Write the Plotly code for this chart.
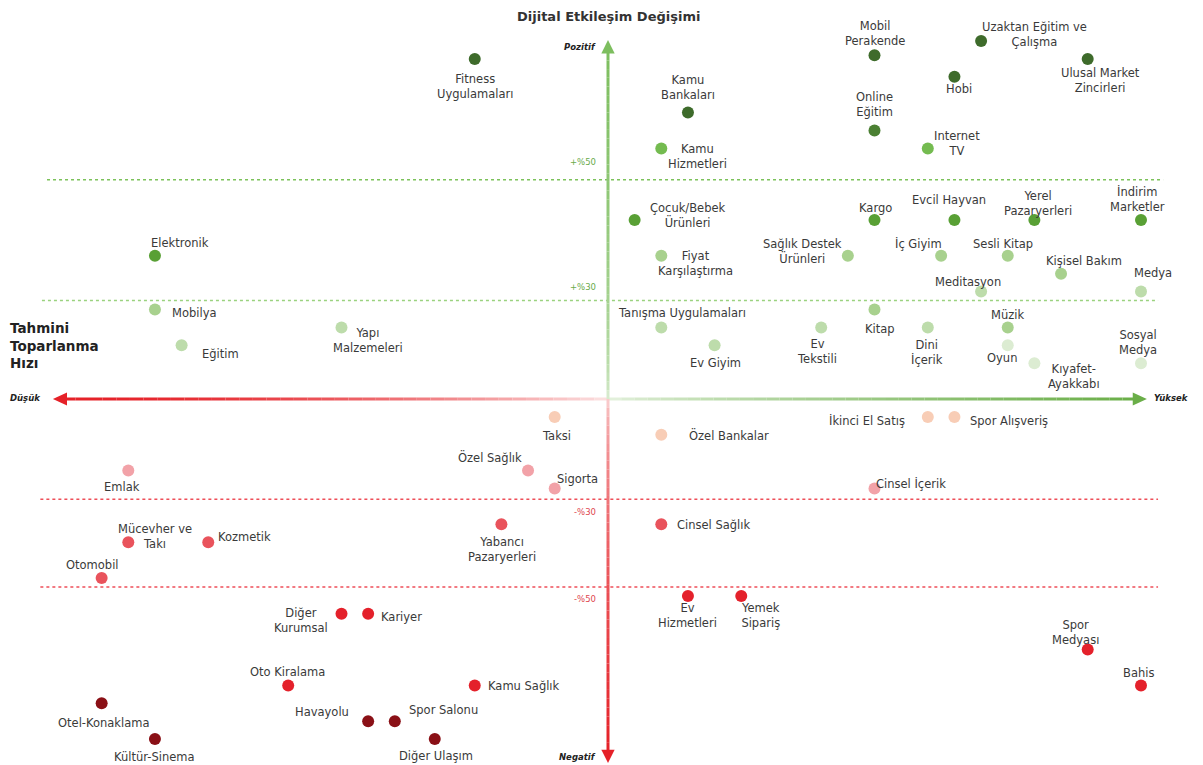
import plotly.graph_objects as go

# ---------------- data ----------------
names = [
    "Fitness<br>Uygulamaları", "Kamu<br>Bankaları", "Kamu<br>Hizmetleri", "Mobil<br>Perakende",
    "Uzaktan Eğitim ve<br>Çalışma", "Hobi", "Ulusal Market<br>Zincirleri", "Online<br>Eğitim",
    "Internet<br>TV", "Çocuk/Bebek<br>Ürünleri", "Fiyat<br>Karşılaştırma", "Elektronik",
    "Kargo", "Evcil Hayvan", "Yerel<br>Pazaryerleri", "İndirim<br>Marketler",
    "Sağlık Destek<br>Ürünleri", "İç Giyim", "Sesli Kitap", "Kişisel Bakım",
    "Medya", "Meditasyon", "Mobilya", "Tanışma Uygulamaları",
    "Kitap", "Ev<br>Tekstili", "Dini<br>İçerik", "Müzik",
    "Oyun", "Kıyafet-<br>Ayakkabı", "Sosyal<br>Medya", "Ev Giyim",
    "Eğitim", "Yapı<br>Malzemeleri", "Taksi", "Özel Bankalar",
    "İkinci El Satış", "Spor Alışveriş", "Emlak", "Özel Sağlık",
    "Sigorta", "Cinsel İçerik", "Mücevher ve<br>Takı", "Kozmetik",
    "Otomobil", "Yabancı<br>Pazaryerleri", "Cinsel Sağlık", "Diğer<br>Kurumsal",
    "Kariyer", "Ev<br>Hizmetleri", "Yemek<br>Sipariş", "Oto Kiralama",
    "Kamu Sağlık", "Spor<br>Medyası", "Bahis", "Otel-Konaklama",
    "Kültür-Sinema", "Havayolu", "Spor Salonu", "Diğer Ulaşım",
]
recovery_speed = [
    -5, 3, 2, 10,
    14, 13, 18, 10,
    12, 1, 2, -17,
    10, 13, 16, 20,
    9, 12.5, 15, 17,
    20, 14, -17, 2,
    10, 8, 12, 15,
    15, 16, 20, 4,
    -16, -10, -2, 2,
    12, 13, -18, -3,
    -2, 10, -18, -15,
    -19, -4, 2, -10,
    -9, 3, 5, -12,
    -5, 18, 20, -19,
    -17, -9, -8, -6.5,
]
digital_change = [
    19.0, 16.0, 14.0, 19.2,
    20.0, 18.0, 19.0, 15.0,
    14.0, 10.0, 8.0, 8.0,
    10.0, 10.0, 10.0, 10.0,
    8.0, 8.0, 8.0, 7.0,
    6.0, 6.0, 5.0, 4.0,
    5.0, 4.0, 4.0, 4.0,
    3.0, 2.0, 2.0, 3.0,
    3.0, 4.0, -1.0, -2.0,
    -1.0, -1.0, -4.0, -4.0,
    -5.0, -5.0, -8.0, -8.0,
    -10.0, -7.0, -7.0, -12.0,
    -12.0, -11.0, -11.0, -16.0,
    -16.0, -14.0, -16.0, -17.0,
    -19.0, -18.0, -18.0, -19.0,
]
groups = [
    "dg", "dg", "mg2", "dg",
    "dg", "dg", "dg", "dg2",
    "mg2", "mg", "lg", "mg",
    "mg", "mg", "mg", "mg",
    "lg", "lg", "lg", "lg",
    "lg2", "lg2", "lg", "lg2",
    "lg", "lg2", "lg2", "lg",
    "vlg", "vlg", "vlg", "lg2",
    "lg2", "lg2", "peach", "peach",
    "peach", "peach", "pink", "pink",
    "pink", "pink", "mr", "mr",
    "mr", "mr", "mr", "red",
    "red", "red", "red", "red",
    "red", "red", "red", "dr",
    "dr", "dr", "dr", "dr",
]
thresholds = [12.25, 5.5, -5.6, -10.5]
threshold_labels = ["+%50", "+%30", "-%30", "-%50"]

# ---------------- styles ----------------
group_colors = {
    "dg": "#3e6b2b", "dg2": "#4b8033", "mg": "#59a035", "mg2": "#74bb50",
    "lg": "#a8d18e", "lg2": "#bddcab", "vlg": "#dcecd2",
    "peach": "#f8cdb6", "pink": "#f2a2a8", "mr": "#e9535c", "red": "#e4212b", "dr": "#8a1016",
}
# label offsets in pixels (dx right, dy up)
label_offsets = [
    (0, -28), (0, 25), (36, -8), (0, 22),
    (53, 7), (5, -12), (13, -22), (0, 26),
    (29, 5), (53, 5), (34, -8), (25, 13),
    (1, 12), (-5, 20), (4, 17), (-4, 21),
    (-45, 4), (-23, 12), (-5, 12), (23, 13),
    (12, 19), (-13, 10), (40, -3), (21, 14),
    (5, -19), (-4, -24), (-1, -25), (0, 12),
    (-6, -13), (40, -13), (-3, 21), (1, -18),
    (39, -9), (26, -13), (2, -19), (68, 0),
    (-61, -4), (55, -4), (-6, -16), (-38, 14),
    (23, 10), (36, 5), (27, 6), (36, 5),
    (-9, 13), (1, -25), (52, -1), (-41, -7),
    (33, -3), (0, -20), (19, -20), (-1, 13),
    (49, -1), (-12, 17), (-3, 12), (2, -20),
    (0, -18), (-46, 9), (49, 11), (1, -17),
]

# the page places the figure 8px in from the top-left corner; compensate
OFF = 8
W, H = 1203, 765
XR = [(OFF - 608) / 26.65, (W + OFF - 608) / 26.65]
YR = [(399 - (H + OFF)) / 17.9, (399 - OFF) / 17.9]
FONT = "DejaVu Sans"


def px(xp):
    return (xp - OFF) / W


def py(yp):
    return 1 - (yp - OFF) / H


fig = go.Figure()
fig.add_trace(go.Scatter(
    x=recovery_speed, y=digital_change, mode="markers",
    marker=dict(size=12, color=[group_colors[g] for g in groups], line=dict(width=0)),
    hovertext=[n.replace("<br>", " ") for n in names], hoverinfo="text", showlegend=False,
))

shapes = []
th_extent = [(-21.05, 20.83, "#7cc25a"), (-21.24, 20.64, "#9bd27f"),
             (-21.3, 20.64, "#ee4f59"), (-21.3, 20.64, "#ee4f59")]
for t, (x0, x1, c) in zip(thresholds, th_extent):
    shapes.append(dict(type="line", x0=x0, x1=x1, y0=t, y1=t,
                       line=dict(color=c, width=1.5, dash="dot"), layer="below"))


def mix(c1, c2, t):
    return "rgb(%d,%d,%d)" % tuple(round(a + (b - a) * t) for a, b in zip(c1, c2))


N = 40
RED = (229, 33, 40)
GREEN = (106, 174, 72)
xl, xr = -20.5, 19.8
for i in range(N):
    a, b = i / N, (i + 1) / N
    t = (a + b) / 2
    shapes.append(dict(type="line", x0=xl * (1 - a), x1=xl * (1 - b), y0=0, y1=0,
                       line=dict(color=mix(RED, (252, 226, 226), t ** 1.8), width=3)))
    shapes.append(dict(type="line", x0=xr * a, x1=xr * b, y0=0, y1=0,
                       line=dict(color=mix((232, 243, 226), GREEN, t ** 0.7), width=3)))
yt, yb = 19.4, -19.7
for i in range(N):
    a, b = i / N, (i + 1) / N
    t = (a + b) / 2
    shapes.append(dict(type="line", x0=0, x1=0, y0=yt * a, y1=yt * b,
                       line=dict(color=mix((238, 246, 234), (125, 190, 95), t ** 0.35), width=3)))
    shapes.append(dict(type="line", x0=0, x1=0, y0=yb * a, y1=yb * b,
                       line=dict(color=mix((252, 228, 228), RED, t ** 0.45), width=3)))
shapes += [
    dict(type="path", path="M -20.83 0 L -20.3 0.36 L -20.3 -0.36 Z", fillcolor="rgb(229,33,40)", line=dict(width=0)),
    dict(type="path", path="M 20.22 0 L 19.69 0.36 L 19.69 -0.36 Z", fillcolor="rgb(106,174,72)", line=dict(width=0)),
    dict(type="path", path="M 0 20.06 L -0.25 19.3 L 0.25 19.3 Z", fillcolor="rgb(125,190,95)", line=dict(width=0)),
    dict(type="path", path="M 0 -20.34 L -0.25 -19.6 L 0.25 -19.6 Z", fillcolor="rgb(229,33,40)", line=dict(width=0)),
]

ann = []
for n, x, y, (dx, dy) in zip(names, recovery_speed, digital_change, label_offsets):
    ann.append(dict(x=x, y=y, text=n, showarrow=False, xshift=dx, yshift=dy,
                    xanchor="center", yanchor="middle",
                    font=dict(family=FONT, size=11.5, color="#3a3a3a")))
th_shift = [18, 14, -13, -12]
for t, lab, s in zip(thresholds, threshold_labels, th_shift):
    ann.append(dict(x=0, y=t, text=lab, showarrow=False, xanchor="right", yanchor="middle",
                    xshift=-10, yshift=s,
                    font=dict(family=FONT, size=8.5, color="#6aaa4a" if t > 0 else "#e0464e")))

ann += [
    dict(xref="paper", yref="paper", x=px(608), y=py(17), text="<b>Dijital Etkileşim Değişimi</b>",
         showarrow=False, xanchor="center", yanchor="middle", font=dict(family=FONT, size=13, color="#333")),
    dict(xref="paper", yref="paper", x=px(8), y=py(345), text="<b>Tahmini<br>Toparlanma<br>Hızı</b>",
         showarrow=False, xanchor="left", yanchor="middle", align="left",
         font=dict(family=FONT, size=13.5, color="#222")),
    dict(xref="paper", yref="paper", x=px(8), y=py(398), text="<b><i>Düşük</i></b>",
         showarrow=False, xanchor="left", yanchor="middle", font=dict(family=FONT, size=8.5, color="#222")),
    dict(xref="paper", yref="paper", x=px(1152), y=py(398), text="<b><i>Yüksek</i></b>",
         showarrow=False, xanchor="left", yanchor="middle", font=dict(family=FONT, size=8.5, color="#222")),
    dict(xref="paper", yref="paper", x=px(598), y=py(47), text="<b><i>Pozitif</i></b>",
         showarrow=False, xanchor="right", yanchor="middle", font=dict(family=FONT, size=8.5, color="#222")),
    dict(xref="paper", yref="paper", x=px(598), y=py(757), text="<b><i>Negatif</i></b>",
         showarrow=False, xanchor="right", yanchor="middle", font=dict(family=FONT, size=8.5, color="#222")),
]

fig.update_layout(
    width=W, height=H,
    margin=dict(l=0, r=0, t=0, b=0),
    paper_bgcolor="white", plot_bgcolor="white",
    xaxis=dict(range=XR, visible=False, showgrid=False, zeroline=False, fixedrange=True),
    yaxis=dict(range=YR, visible=False, showgrid=False, zeroline=False, fixedrange=True),
    shapes=shapes, annotations=ann,
)
fig.write_html("out.html")
